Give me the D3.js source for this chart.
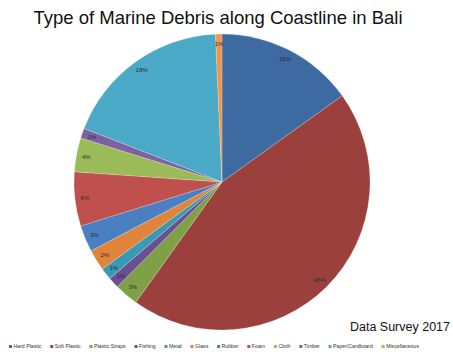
<!DOCTYPE html>
<html><head><meta charset="utf-8">
<script src="https://cdn.jsdelivr.net/npm/d3@7"></script>
<style>body{margin:0;background:#fff}svg{display:block}</style>
</head><body>
<script>
const categories = ["Hard Plastic","Soft Plastic","Plastic Straps","Fishing","Metal","Glass","Rubber","Foam","Cloth","Timber","Paper/Cardboard","Miscellaneous"];
const values = [15.1,44.8,2.6,1.2,1.3,2.3,2.9,5.9,3.7,1.1,18.4,0.7];
const colors = ["#3d6aa0","#9c403d","#7fa046","#6a5090","#3a9ab4","#e0843a","#4a7fc2","#c0504d","#9bbb59","#7e62a0","#4ba9c8","#f39646"];
const title = "Type of Marine Debris along Coastline in Bali";
const note = "Data Survey 2017";

const W = 453, H = 352;
const svg = d3.select("body").append("svg").attr("width", W).attr("height", H);
const cx = 222, cy = 182, R = 148;

const pie = d3.pie().sort(null).value(d => d)(values);
const arc = d3.arc().innerRadius(0).outerRadius(R);
const labelArc = d3.arc().innerRadius(138).outerRadius(138);
const total = d3.sum(values);

const g = svg.append("g").attr("transform", `translate(${cx},${cy})`);
g.selectAll("path").data(pie).join("path")
  .attr("d", arc).attr("fill", (d,i) => colors[i])
  .attr("stroke", "rgba(255,255,255,0.35)").attr("stroke-width", 0.6);

g.selectAll("text").data(pie).join("text")
  .attr("transform", d => `translate(${labelArc.centroid(d)})`)
  .attr("text-anchor", "middle").attr("dy", "0.35em")
  .attr("font-family", "Liberation Sans, Arial, sans-serif")
  .attr("font-size", 6).attr("fill", "#2b2b3a")
  .text(d => Math.round(d.value / total * 100) + "%");

svg.append("text").attr("x", 218).attr("y", 24).attr("text-anchor", "middle")
  .attr("font-family", "Liberation Sans, Arial, sans-serif").attr("font-size", 18.5)
  .attr("fill", "#111").text(title);

svg.append("text").attr("x", 450).attr("y", 331).attr("text-anchor", "end")
  .attr("font-family", "Liberation Sans, Arial, sans-serif").attr("font-size", 12.5)
  .attr("fill", "#111").text(note);

// legend
const lg = svg.append("g");
const fs = 5.2;
const items = lg.selectAll("g").data(categories).join("g");
items.append("rect").attr("width", 3).attr("height", 3).attr("y", -3)
  .attr("fill", (d,i) => colors[i]);
items.append("text").attr("x", 4.5).attr("y", 0)
  .attr("font-family", "Liberation Sans, Arial, sans-serif").attr("font-size", fs)
  .attr("fill", "#333").text(d => d);
const widths = [];
items.each(function(){ widths.push(4.5 + d3.select(this).select("text").node().getComputedTextLength()); });
const startX = 9, endX = 419;
const gap = (endX - startX - d3.sum(widths)) / (categories.length - 1);
let x = startX;
items.each(function(d,i){ d3.select(this).attr("transform", `translate(${x},348)`); x += widths[i] + gap; });
</script>
</body></html>
